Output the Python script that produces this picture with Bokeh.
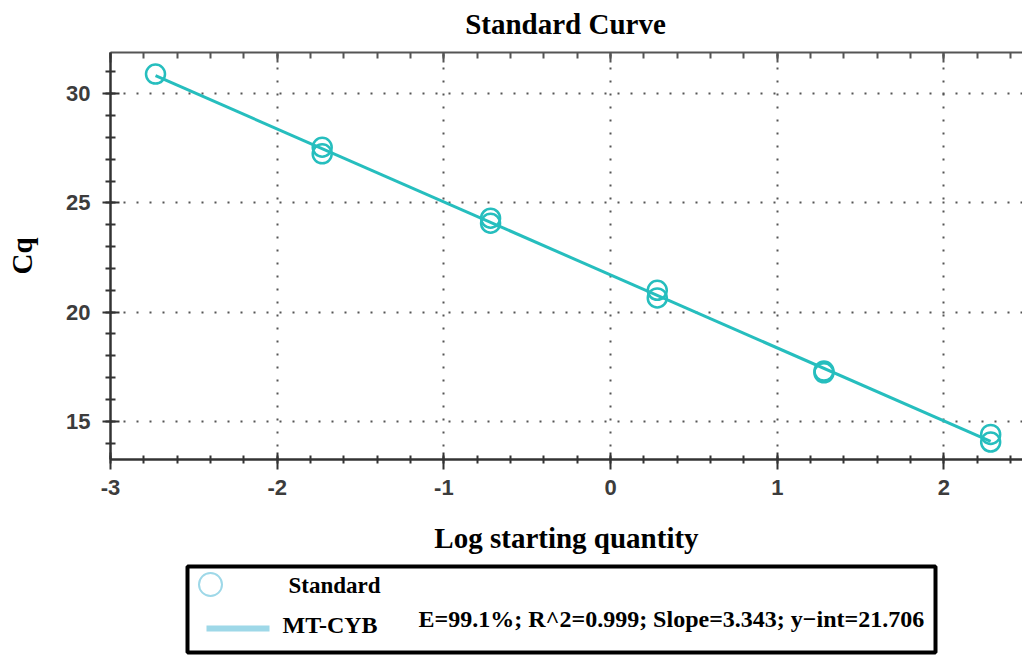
from bokeh.plotting import figure
from bokeh.models import Range1d, LinearAxis, SingleIntervalTicker, CustomJSTickFormatter, Grid
from bokeh.layouts import column
from bokeh.core.properties import value
from bokeh.embed import file_html
from bokeh.resources import INLINE

# ---- data ----
log_qty = [-2.73, -1.73, -1.73, -0.72, -0.72, 0.28, 0.28, 1.28, 1.28, 2.28, 2.28]
cq_vals = [30.9, 27.55, 27.25, 24.3, 24.07, 21.0, 20.65, 17.3, 17.22, 14.4, 14.05]
fit_x = [-2.73, 2.28]
fit_y = [30.83, 14.08]
x_ticks = [-3, -2, -1, 0, 1, 2]
x_tick_labels = ["-3", "-2", "-1", "0", "1", "2"]
title_text = "Standard Curve"
x_label = "Log starting quantity"
y_label = "Cq"
legend_std = "Standard"
legend_fit = "MT-CYB"
stats_text = "E=99.1%; R^2=0.999; Slope=3.343; y\u2212int=21.706"

TEAL = "#26BEBE"
LIGHT = "#9ED8E8"
SERIF = "Liberation Serif"
SANS = "Liberation Sans"

# ---- title strip (frames in the column are aligned: x 110..1022) ----
tf = figure(width=1022, height=40, output_backend="svg", toolbar_location=None,
            x_range=Range1d(110, 1022), y_range=Range1d(40, 0),
            min_border=0, x_axis_type=None, y_axis_type=None)
tf.outline_line_color = None
tf.text([565], [23], text=[title_text], text_font=value(SERIF), text_font_style="bold",
        text_font_size="29px", text_baseline="middle", text_align="center", text_color="black")

p = figure(width=1022, height=522, output_backend="svg", toolbar_location=None,
           x_range=Range1d(-3, 2.471), y_range=Range1d(13.25, 31.89),
           min_border_left=110, min_border_right=0, min_border_top=12,
           min_border_bottom=103, x_axis_type=None, y_axis_type=None)
p.outline_line_color = None
p.background_fill_color = "white"

xt = SingleIntervalTicker(interval=1, num_minor_ticks=5)
yt = SingleIntervalTicker(interval=5, num_minor_ticks=5)

xa = LinearAxis(ticker=xt, axis_label=x_label)
xa.major_label_overrides = {t: s for t, s in zip(x_ticks, x_tick_labels)}
ya = LinearAxis(ticker=yt, axis_label=y_label)
ta = LinearAxis(ticker=xt, formatter=CustomJSTickFormatter(code="return ''"))
for a in (xa, ya):
    a.axis_line_color = "#333333"
    a.axis_line_width = 2.5
    a.major_tick_line_color = "#333333"
    a.major_tick_line_width = 2
    a.minor_tick_line_color = "#333333"
    a.minor_tick_line_width = 2
    a.major_label_text_font = SANS
    a.major_label_text_font_style = "bold"
    a.major_label_text_font_size = "22px"
    a.major_label_text_color = "#3c3c3c"
    a.axis_label_text_font = SERIF
    a.axis_label_text_font_style = "bold"
    a.axis_label_text_font_size = "29px"
    a.axis_label_text_color = "black"
xa.major_tick_in = 7
xa.major_tick_out = 10
xa.minor_tick_in = 4
xa.minor_tick_out = 4
xa.major_label_standoff = 10
xa.axis_label_standoff = 24
ya.major_tick_in = 9
ya.major_tick_out = 8
ya.minor_tick_in = 5
ya.minor_tick_out = 5
ya.major_label_standoff = 12
ya.axis_label_standoff = 25

ta.axis_line_color = "#555555"
ta.axis_line_width = 2
ta.major_tick_line_color = "#555555"
ta.major_tick_line_width = 2
ta.minor_tick_line_color = "#555555"
ta.minor_tick_line_width = 2
ta.major_tick_in = 10
ta.major_tick_out = 0
ta.minor_tick_in = 6
ta.minor_tick_out = 0
ta.major_label_standoff = 0

p.add_layout(xa, "below")
p.add_layout(ya, "left")
p.add_layout(ta, "above")

for dim, tk in ((0, xt), (1, yt)):
    g = Grid(dimension=dim, ticker=tk, grid_line_color="#555555",
             grid_line_width=2, grid_line_dash="2 11")
    p.add_layout(g, "center")

p.line(fit_x, fit_y, line_color=TEAL, line_width=3)
p.scatter(log_qty, cq_vals, marker="circle", size=19, fill_color=None,
          line_color=TEAL, line_width=2.5)

# ---- legend panel (below the chart) ----
lg = figure(width=1022, height=93, output_backend="svg", toolbar_location=None,
            x_range=Range1d(110, 1022), y_range=Range1d(93, 0),
            min_border=0, x_axis_type=None, y_axis_type=None)
lg.outline_line_color = None
lg.quad(left=[187], right=[935], top=[4], bottom=[90], fill_color="white",
        line_color="black", line_width=4)
lg.scatter([210], [22], marker="circle", size=23, fill_color=None,
           line_color=LIGHT, line_width=2)
lg.line([206, 269], [66, 66], line_color=LIGHT, line_width=6)
lg.text([288], [23], text=[legend_std], text_font=value(SERIF), text_font_style="bold",
        text_font_size="23px", text_baseline="middle", text_align="left", text_color="black")
lg.text([282], [62], text=[legend_fit], text_font=value(SERIF), text_font_style="bold",
        text_font_size="24px", text_baseline="middle", text_align="left", text_color="black")
lg.text([418], [56], text=[stats_text], text_font=value(SERIF), text_font_style="bold",
        text_font_size="24px", text_baseline="middle", text_align="left", text_color="black")

layout = column(tf, p, lg, spacing=0)
open("out.html", "w").write(file_html(layout, INLINE))
